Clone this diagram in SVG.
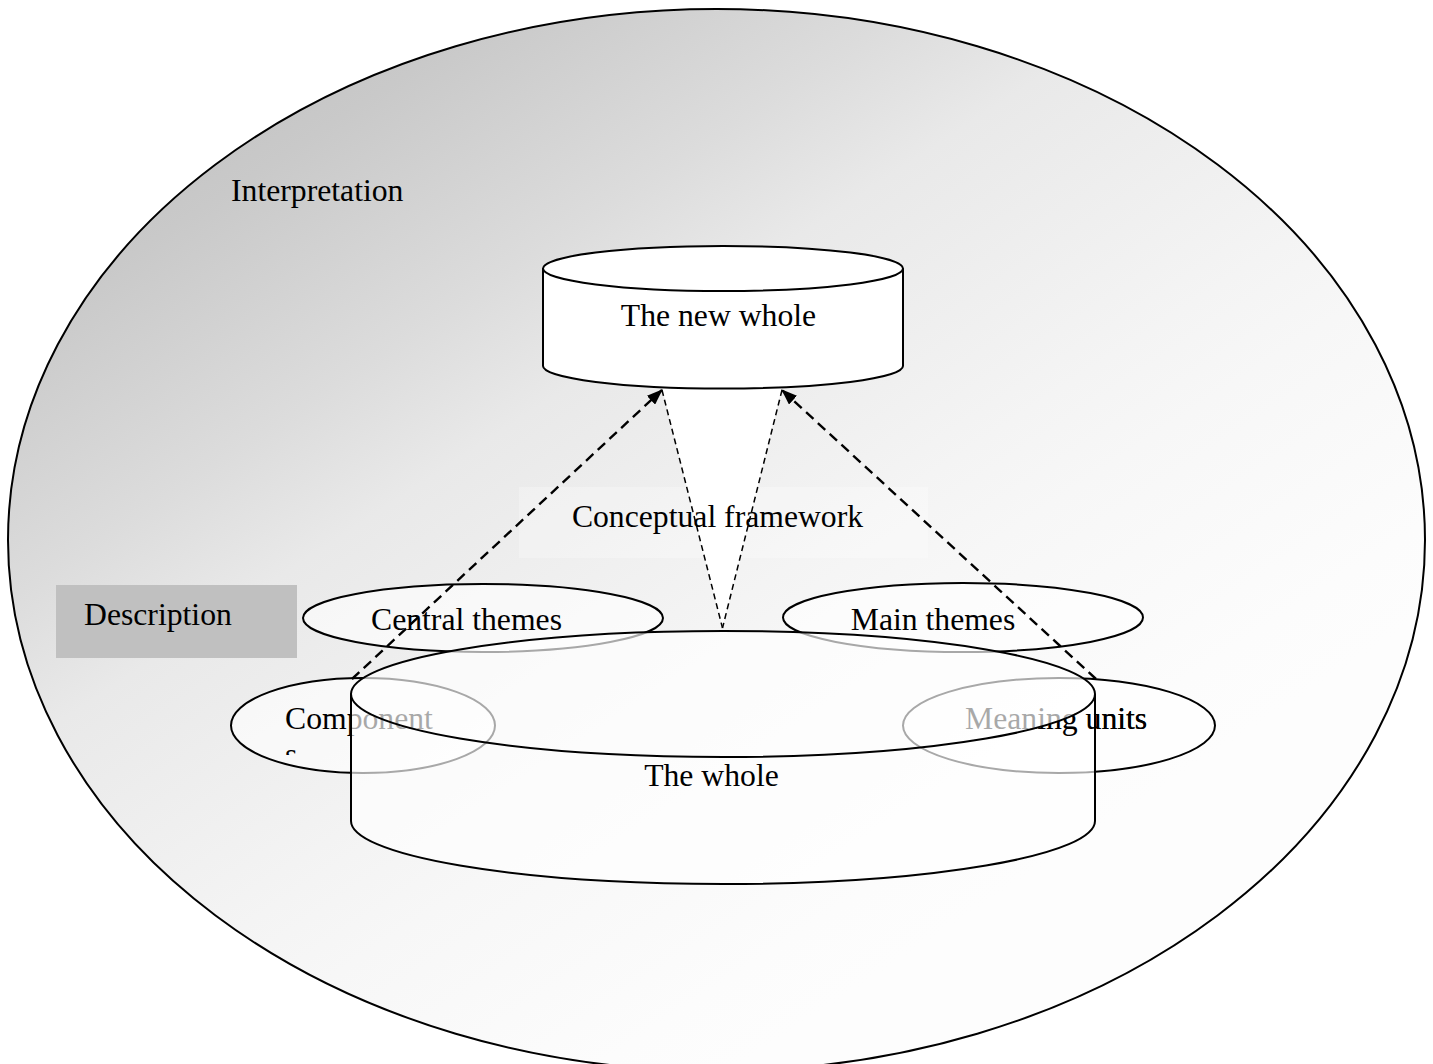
<svg xmlns="http://www.w3.org/2000/svg" width="1433" height="1064" viewBox="0 0 1433 1064">
  <style>
    .lbl { font-family: "Liberation Serif", "Times New Roman", serif; font-size: 31.7px; fill: #000; }
    .edge { fill: none; stroke: #000; stroke-width: 2; }
    .bubble { fill: #ffffff; fill-opacity: 0.62; stroke: #000; stroke-width: 2; }
    .arrow { fill: none; stroke: #000; stroke-width: 2.4; stroke-dasharray: 10 6; }
    .cone { fill: none; stroke: #000; stroke-width: 1.5; stroke-dasharray: 6 4; }
  </style>
  <defs>
    <linearGradient id="interpFill" gradientUnits="userSpaceOnUse" x1="0" y1="0" x2="712" y2="1084">
      <stop offset="0" stop-color="#b9b9b9"/>
      <stop offset="0.18" stop-color="#c6c6c6"/>
      <stop offset="0.22" stop-color="#c9c9c9"/>
      <stop offset="0.39" stop-color="#dcdcdc"/>
      <stop offset="0.49" stop-color="#e9e9e9"/>
      <stop offset="0.70" stop-color="#f4f4f4"/>
      <stop offset="0.77" stop-color="#f7f7f7"/>
      <stop offset="0.94" stop-color="#fcfcfc"/>
      <stop offset="1" stop-color="#fdfdfd"/>
    </linearGradient>
    <marker id="head" viewBox="0 0 16 12" refX="15" refY="6" markerWidth="16" markerHeight="12" orient="auto" markerUnits="userSpaceOnUse">
      <path d="M0,0 L16,6 L0,12 z" fill="#000"/>
    </marker>
    <!-- wrapped second line of the "Component" label shows only its top -->
    <clipPath id="wrapClip"><rect x="270" y="740" width="60" height="15"/></clipPath>
    <!-- label area of "Meaning units" lying outside the cylinder's top face -->
    <clipPath id="unitsClip">
      <path clip-rule="evenodd" d="M960,690 H1165 V750 H960 Z M351,694 A372,63 0 0 1 1095,694 A372,63 0 0 1 351,694 Z"/>
    </clipPath>
  </defs>

  <!-- Interpretation: large outer ellipse -->
  <g id="interpretation">
    <ellipse cx="716.5" cy="540" rx="708.5" ry="531" stroke="#000" stroke-width="2" fill="url(#interpFill)"/>
    <text class="lbl" x="231" y="201">Interpretation</text>
  </g>

  <!-- Description label box -->
  <g id="description">
    <rect x="56" y="585" width="241" height="73" fill="#c0c0c0"/>
    <text class="lbl" x="84" y="625">Description</text>
  </g>

  <!-- Conceptual framework: white cone between the two cylinders -->
  <g id="conceptual-framework">
    <polygon points="662,388 782,388 722.5,628" fill="#ffffff"/>
    <rect x="519" y="487" width="409" height="71" fill="#ffffff" fill-opacity="0.28"/>
    <line class="cone" x1="662" y1="390" x2="722.5" y2="628"/>
    <line class="cone" x1="782" y1="390" x2="722.5" y2="628"/>
    <text class="lbl" x="717.5" y="527" text-anchor="middle">Conceptual framework</text>
  </g>

  <!-- The new whole: upper cylinder -->
  <g id="new-whole">
    <path d="M543,268.5 A180,22.5 0 0 1 903,268.5 L903,366 A180,22.5 0 0 1 543,366 Z" fill="#ffffff" stroke="#000" stroke-width="2"/>
    <path d="M543,268.5 A180,22.5 0 0 0 903,268.5" class="edge"/>
    <text class="lbl" x="718.5" y="326" text-anchor="middle">The new whole</text>
  </g>

  <!-- Theme and unit ellipses -->
  <g id="central-themes">
    <ellipse class="bubble" cx="483" cy="618" rx="180" ry="34"/>
    <text class="lbl" x="466.5" y="630" text-anchor="middle">Central themes</text>
  </g>
  <g id="main-themes">
    <ellipse class="bubble" cx="963" cy="617.5" rx="180" ry="34.5"/>
    <text class="lbl" x="933" y="630" text-anchor="middle">Main themes</text>
  </g>
  <g id="components">
    <ellipse class="bubble" cx="363" cy="725.5" rx="132" ry="47.5"/>
    <text class="lbl" x="285" y="728.5">Component</text>
    <text class="lbl" x="285" y="765" clip-path="url(#wrapClip)">s</text>
  </g>
  <g id="meaning-units">
    <ellipse class="bubble" cx="1059" cy="725.5" rx="156" ry="47.5"/>
    <text class="lbl" x="965" y="728.5">Meaning units</text>
  </g>

  <!-- Connectors -->
  <g id="connectors">
    <line class="arrow" x1="352" y1="679" x2="662" y2="390" marker-end="url(#head)"/>
    <line class="arrow" x1="1096" y1="679" x2="782" y2="390" marker-end="url(#head)"/>
  </g>

  <!-- The whole: large translucent cylinder -->
  <g id="the-whole">
    <path d="M351,694 A372,63 0 0 1 1095,694 L1095,821 A372,63 0 0 1 351,821 Z" fill="#ffffff" fill-opacity="0.66" stroke="#000" stroke-width="2"/>
    <path d="M351,694 A372,63 0 0 0 1095,694" class="edge"/>
    <text class="lbl" x="965" y="728.5" clip-path="url(#unitsClip)">Meaning units</text>
    <line x1="1095" y1="694" x2="1095" y2="821" stroke="#000" stroke-width="2"/>
    <text class="lbl" x="711.5" y="786" text-anchor="middle">The whole</text>
  </g>
</svg>
